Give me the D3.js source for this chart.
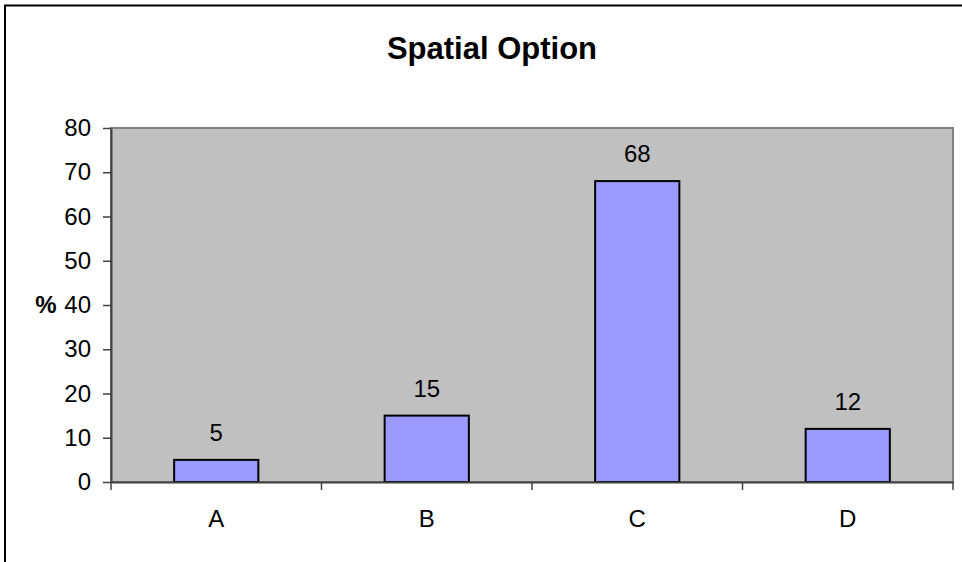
<!DOCTYPE html>
<html><head><meta charset="utf-8">
<script src="https://cdn.jsdelivr.net/npm/d3@7"></script>
<style>body{margin:0;background:#fff}svg{display:block}</style>
</head><body>
<script>
const categories = ["A","B","C","D"];
const values = [5,15,68,12];
const yTicks = [0,10,20,30,40,50,60,70,80];
const title = "Spatial Option";
const yLabel = "%";

const W=962,H=562;
const FONT="Arial, 'Liberation Sans', sans-serif";
const svg=d3.select("body").append("svg").attr("width",W).attr("height",H);
svg.append("rect").attr("x",5).attr("y",5.5).attr("width",1000).attr("height",600)
  .attr("fill","#fff").attr("stroke","#000").attr("stroke-width",2);

const L=111,R=953,T=128,B=482;
const x=d3.scaleBand().domain(categories).range([L,R]).paddingInner(0.6).paddingOuter(0.3);
const xb=d3.scaleBand().domain(categories).range([L,R]);
const y=d3.scaleLinear().domain([0,80]).range([B,T]);

svg.append("rect").attr("x",L).attr("y",T).attr("width",R-L).attr("height",B-T)
  .attr("fill","#c0c0c0").attr("stroke","#808080").attr("stroke-width",2);

svg.selectAll(".bar").data(values).enter().append("rect")
  .attr("x",(d,i)=>x(categories[i])).attr("width",x.bandwidth())
  .attr("y",d=>y(d)).attr("height",d=>B-y(d))
  .attr("fill","#9999ff").attr("stroke","#000").attr("stroke-width",2);

svg.selectAll(".lbl").data(values).enter().append("text")
  .attr("x",(d,i)=>x(categories[i])+x.bandwidth()/2).attr("y",d=>y(d)-19)
  .attr("text-anchor","middle").attr("font-family",FONT)
  .attr("font-size",24).attr("fill","#000").text(d=>d);

// y axis
const ya=svg.append("g").attr("transform",`translate(${L},0)`)
  .call(d3.axisLeft(y).tickValues(yTicks).tickSize(8).tickPadding(12).tickSizeOuter(0));
ya.select(".domain").attr("stroke","#404040").attr("stroke-width",2);
ya.selectAll(".tick line").attr("stroke","#404040").attr("stroke-width",1.5);
ya.selectAll("text").attr("font-family",FONT).attr("font-size",24).attr("fill","#000");

// x axis
const xa=svg.append("g").attr("transform",`translate(0,${B})`)
  .call(d3.axisBottom(x).tickSize(0).tickPadding(28));
xa.select(".domain").attr("stroke","#404040").attr("stroke-width",2);
xa.selectAll("text").attr("font-family",FONT).attr("font-size",24).attr("fill","#000");
svg.append("g").selectAll("line").data(categories.concat(["end"])).enter().append("line")
  .attr("x1",(d,i)=>i<categories.length?xb(d):R).attr("x2",(d,i)=>i<categories.length?xb(d):R)
  .attr("y1",B).attr("y2",B+8).attr("stroke","#404040").attr("stroke-width",1.5);

svg.append("text").attr("x",492).attr("y",59).attr("text-anchor","middle")
  .attr("font-family",FONT).attr("font-weight","bold").attr("font-size",31)
  .text(title);
svg.append("text").attr("x",46).attr("y",y(40)+8).attr("text-anchor","middle")
  .attr("font-family",FONT).attr("font-weight","bold").attr("font-size",24)
  .text(yLabel);
</script>
</body></html>
